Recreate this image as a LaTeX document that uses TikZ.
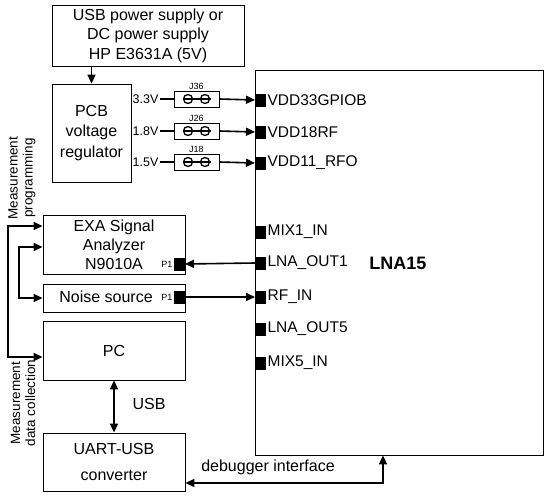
\documentclass[tikz,border=0pt]{standalone}
\usepackage{fontspec}
\setmainfont{Liberation Sans}
\usetikzlibrary{arrows.meta,calc}
\tikzset{
  box/.style={draw, line width=0.8pt, inner sep=0pt, align=center},
  pin/.style={fill=black, draw=none, minimum width=11pt, minimum height=13pt, inner sep=0pt, anchor=west},
  pinlabel/.style={anchor=west, inner sep=1pt, font=\fontsize{15.5}{18}\selectfont},
  link/.style={line width=1.6pt},
  tip/.style={-{Triangle[length=9pt,width=8pt]}},
  tips/.style={{Triangle[length=9pt,width=8pt]}-{Triangle[length=9pt,width=8pt]}},
  small/.style={font=\fontsize{9}{10}\selectfont, inner sep=1pt},
}
\begin{document}
\begin{tikzpicture}[x=1pt,y=-1pt]
\useasboundingbox (0,0) rectangle (550,498);
% boxes
\node[box, minimum width=192pt, minimum height=61pt, font=\fontsize{16}{19.5}\selectfont] (ps) at (148,35.5) {USB power supply or\\DC power supply\\HP E3631A (5V)};
\node[box, minimum width=79pt, minimum height=98pt, font=\fontsize{16}{20.5}\selectfont] (reg) at (91.5,133) {PCB\\voltage\\regulator};
\node[box, minimum width=288pt, minimum height=385pt] (lna) at (399,262.5) {};
\node[font=\bfseries\fontsize{18}{20}\selectfont] (lnaname) at (398,263) {LNA15};
\node[box, minimum width=142pt, minimum height=59pt, font=\fontsize{16}{19}\selectfont] (exa) at (114,244.5) {EXA Signal\\Analyzer\\N9010A};
\node[box, minimum width=142pt, minimum height=28pt, font=\fontsize{16}{19}\selectfont] (noise) at (114,298) {};
\node[font=\fontsize{16}{19}\selectfont, inner sep=0pt] (noisetxt) at (106,297) {Noise source};
\node[box, minimum width=142pt, minimum height=59pt, font=\fontsize{16}{19}\selectfont] (pcbox) at (114,350.5) {PC};
\node[box, minimum width=142pt, minimum height=58pt, font=\fontsize{16}{26}\selectfont] (uart) at (114,462) {UART-USB\\converter};
% voltage labels and jumpers
\foreach \n/\v/\y/\j in {a/3.3V/99/J36, b/1.8V/131/J26, c/1.5V/162/J18}{
  \node[anchor=west, inner sep=1pt, font=\fontsize{12.5}{14}\selectfont] (volt\n) at (131.5,\y) {\v};
  \node[box, minimum width=45pt, minimum height=16pt] (jmp\n) at (196.5,\y) {};
  \node[small, anchor=south] (jlab\n) at (jmp\n.north) {\j};
  \draw[line width=1.3pt] ($(jmp\n.center)+(-14,0)$) -- ($(jmp\n.center)+(14,0)$);
  \draw[line width=1.3pt] ($(jmp\n.center)+(-8.5,0)$) circle (4.5pt);
  \draw[line width=1.3pt] ($(jmp\n.center)+(8.5,0)$) circle (4.5pt);
  \draw[link] (volt\n.east) -- (jmp\n.west);
}
% pins
\foreach \n/\t/\y in {pinA/VDD33GPIOB/100, pinB/VDD18RF/132, pinC/VDD11\_RFO/163, pinD/MIX1\_IN/232, pinE/LNA\_OUT1/263, pinF/RF\_IN/297, pinG/LNA\_OUT5/329, pinH/MIX5\_IN/363}{
  \node[pin] (\n) at (255,\y) {};
  \node[pinlabel] (\n lab) at (\n.east) {\t};
}
\draw[link,tip] (jmpa.east) -- (pinA.west);
\draw[link,tip] (jmpb.east) -- (pinB.west);
\draw[link,tip] (jmpc.east) -- (pinC.west);
% P1 ports
\node[pin, anchor=east] (exap) at (185,264) {};
\node[small, anchor=east] (exapl) at (exap.west) {P1};
\node[pin, anchor=east] (noisep) at (185,297) {};
\node[small, anchor=east] (noisepl) at (noisep.west) {P1};
\draw[link,tip] (pinE.west) -- (exap.east);
\draw[link,tip] (noisep.east) -- (pinF.west);
% supply arrow
\draw[link,tip] (reg.north |- ps.south) -- (reg.north);
% USB
\draw[link,tips] (pcbox.south) -- (uart.north);
\node[font=\fontsize{16}{19}\selectfont, anchor=west] (usb) at (129,404) {USB};
% debugger
\draw[link,tips] (uart.east |- 0,483) -- (383,483) -- (lna.south -| 383,0);
\node[font=\fontsize{16}{19}\selectfont] (dbg) at (268,467) {debugger interface};
% left brackets
\draw[link,tips] (exa.west |- 0,226) -- (8,226) -- (8,357) -- (pcbox.west |- 0,357);
\draw[link,tips] (exa.west |- 0,247) -- (19,247) -- (19,298) -- (noise.west);
\node[rotate=90, align=center, font=\fontsize{13.5}{15}\selectfont] (mprog) at (22,178) {Measurement\\programming};
\node[rotate=90, align=center, font=\fontsize{13.5}{15}\selectfont] (mdata) at (23,403) {Measurement\\data collection};
\end{tikzpicture}
\end{document}
